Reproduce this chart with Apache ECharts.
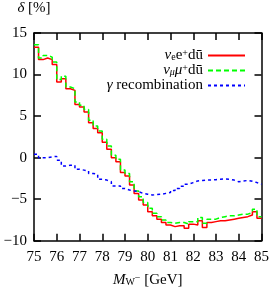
<!DOCTYPE html>
<html><head><meta charset="utf-8">
<script src="https://cdn.jsdelivr.net/npm/echarts@6/dist/echarts.min.js"></script>
<style>html,body{margin:0;padding:0;background:#fff}#c{width:272px;height:293px}</style>
</head><body><div id="c"></div>
<script>
// bin left edges (GeV), bins of 0.2 GeV, last edge 85
const binEdges = [75.0,75.2,75.4,75.6,75.8,76.0,76.2,76.4,76.6,76.8,77.0,77.2,77.4,77.6,77.8,78.0,78.2,78.4,78.6,78.8,79.0,79.2,79.4,79.6,79.8,80.0,80.2,80.4,80.6,80.8,81.0,81.2,81.4,81.6,81.8,82.0,82.2,82.4,82.6,82.8,83.0,83.2,83.4,83.6,83.8,84.0,84.2,84.4,84.6,84.8,85.0];
const nuE = [13.3,11.8,12.0,11.8,11.2,9.1,9.5,8.3,8.1,6.4,6.1,5.5,4.2,3.5,3.0,1.85,1.0,0.0,-0.5,-1.8,-2.2,-3.3,-4.3,-5.1,-5.7,-6.5,-7.0,-7.4,-7.8,-8.1,-8.3,-8.2,-8.2,-8.5,-8.0,-8.1,-7.6,-8.4,-7.8,-7.7,-7.6,-7.6,-7.5,-7.4,-7.3,-7.2,-7.1,-6.9,-6.5,-7.3];
const nuMu = [13.6,12.0,12.3,12.1,11.5,9.4,9.8,8.5,8.3,6.7,6.3,5.8,4.5,3.8,3.2,2.2,1.4,0.3,-0.2,-1.5,-1.9,-2.9,-4.0,-4.7,-5.4,-6.1,-6.7,-7.1,-7.5,-7.8,-7.9,-7.8,-7.8,-8.0,-7.7,-7.7,-7.2,-7.9,-7.4,-7.4,-7.2,-7.1,-7.0,-7.0,-6.9,-6.8,-6.8,-6.6,-6.2,-7.1];
const gammaRec = [0.4,0.0,0.0,0.1,0.15,-0.3,-1.0,-0.9,-0.9,-1.4,-1.5,-1.6,-1.9,-2.0,-2.6,-2.7,-2.9,-3.4,-3.4,-3.7,-3.9,-4.0,-4.1,-4.3,-4.4,-4.5,-4.45,-4.4,-4.3,-4.2,-3.95,-3.7,-3.45,-3.2,-3.0,-2.8,-2.75,-2.7,-2.7,-2.65,-2.6,-2.55,-2.6,-2.7,-2.9,-2.8,-2.75,-2.85,-3.0,-3.2];
const xTicks = [75,76,77,78,79,80,81,82,83,84,85];
const yTicks = [-10,-5,0,5,10,15];
const seriesNames = ['nuE','nuMu','gamma'];

function histData(vals){
  const d = vals.map((v,i)=>[binEdges[i], v]);
  d.push([binEdges[binEdges.length-1], vals[vals.length-1]]);
  return d;
}
const FF = '"Liberation Serif", "DejaVu Serif", serif';
const LH = 13.5;
const rich = {
  r:{fontFamily:FF,fontSize:15,color:'#000',lineHeight:LH},
  i:{fontFamily:FF,fontSize:15,fontStyle:'italic',color:'#000',lineHeight:LH},
  s:{fontFamily:FF,fontSize:10,color:'#000',verticalAlign:'bottom',lineHeight:LH},
  si:{fontFamily:FF,fontSize:10,fontStyle:'italic',color:'#000',verticalAlign:'bottom',lineHeight:LH},
  p:{fontFamily:FF,fontSize:10,color:'#000',verticalAlign:'top',lineHeight:LH}
};
const legendLabels = {
  nuE:'{i|ν}{s|e}{r|e}{p|+}{r|dū}',
  nuMu:'{i|ν}{si|μ}{i|μ}{p|+}{r|dū}',
  gamma:'{i|γ}{r| recombination}'
};
const chart = echarts.init(document.getElementById('c'), null, {renderer:'canvas'});
const axisCommon = {
  type:'value', min:75, max:85, interval:1,
  axisLine:{onZero:false,lineStyle:{color:'#000',width:1.5}},
  axisTick:{inside:true,length:7,lineStyle:{color:'#000',width:1.5}},
  splitLine:{show:false}
};
const yCommon = {
  type:'value', min:-10, max:15, interval:5,
  axisLine:{onZero:false,lineStyle:{color:'#000',width:1.5}},
  axisTick:{inside:true,length:7,lineStyle:{color:'#000',width:1.5}},
  splitLine:{show:false}
};
chart.setOption({
  animation:false,
  backgroundColor:'#fff',
  grid:{left:34,right:8,top:33,bottom:44,containLabel:false},
  xAxis:[
    Object.assign({}, axisCommon, {position:'bottom',
      axisLabel:{color:'#000',fontFamily:FF,fontSize:15,margin:9},
      name:'{i|M}{s|W}{p|−}{r| [GeV]}', nameLocation:'middle', nameGap:33,
      nameTextStyle:{rich:rich}}),
    Object.assign({}, axisCommon, {position:'top', axisLabel:{show:false}})
  ],
  yAxis:[
    Object.assign({}, yCommon, {position:'left',
      axisLabel:{color:'#000',fontFamily:FF,fontSize:15,margin:7,
        formatter:v=>String(v).replace('-','−')},
      name:'{i|δ}{r| [%]}', nameLocation:'end', nameGap:18,
      nameTextStyle:{rich:rich, align:'center'}}),
    Object.assign({}, yCommon, {position:'right', axisLabel:{show:false}})
  ],
  legend:{
    right:21, top:43, orient:'vertical', align:'right', itemGap:0,
    itemWidth:37, itemHeight:13,
    data:seriesNames,
    formatter:n=>legendLabels[n],
    itemStyle:{opacity:0},
    textStyle:{rich:rich}
  },
  series:[
    {name:'nuE',type:'line',step:'end',data:histData(nuE),symbol:'none',
      lineStyle:{color:'#ff0000',width:1.5},itemStyle:{color:'#ff0000'}},
    {name:'nuMu',type:'line',step:'end',data:histData(nuMu),symbol:'none',
      lineStyle:{color:'#00ff00',width:1.5,type:[5,3]},itemStyle:{color:'#00ff00'}},
    {name:'gamma',type:'line',step:'end',data:histData(gammaRec),symbol:'none',
      lineStyle:{color:'#0000ff',width:1.5,type:[3,3]},itemStyle:{color:'#0000ff'}}
  ]
});
</script></body></html>
